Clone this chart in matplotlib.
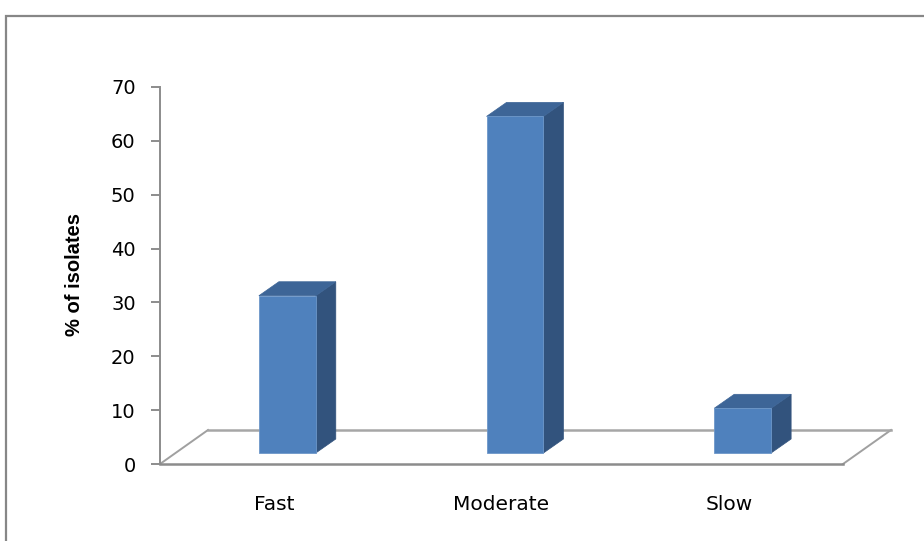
import matplotlib
matplotlib.use("Agg")
import matplotlib.pyplot as plt
from matplotlib.patches import Polygon, Rectangle
from matplotlib.lines import Line2D

categories = ["Fast", "Moderate", "Slow"]
values = [29.2, 62.5, 8.3]
y_ticks = [0, 10, 20, 30, 40, 50, 60, 70]
y_label = "% of isolates"

W, H = 924, 541
fig = plt.figure(figsize=(W / 100, H / 100), dpi=100)
plt.rcParams["font.family"] = ["DejaVu Sans"]

# front plane of the 3-D plot box (pixel geometry)
ax_left, ax_right, ax_bottom, ax_top = 160, 843, 464, 87
ax = fig.add_axes([ax_left / W, (H - ax_bottom) / H,
                   (ax_right - ax_left) / W, (ax_bottom - ax_top) / H])
ax.set_xlim(-0.5, len(categories) - 0.5)
ax.set_ylim(0, 70)
ax.patch.set_alpha(0)
for s in ("top", "right", "bottom"):
    ax.spines[s].set_visible(False)
ax.spines["left"].set_color("#8c8c8c")
ax.spines["left"].set_linewidth(1.4)
ax.set_yticks(y_ticks)
ax.tick_params(axis="y", direction="out", length=6.5, width=1.4,
               color="#8c8c8c", pad=11, labelsize=14, labelcolor="#000000")
ax.set_xticks([])

# convert a depth offset in pixels into data units
def depth(px_dx, px_dy):
    inv = ax.transData.inverted()
    x0, y0 = ax.transData.transform((0, 0))
    x1, y1 = inv.transform((x0 + px_dx, y0 + px_dy))
    return x1, y1

floor_dx, floor_dy = depth(48, 34)
mid_dx, mid_dy = depth(13.5, 11)
bar_dx, bar_dy = depth(20, 14)

x0, x1 = -0.5, len(categories) - 0.5
# floor of the plot box
ax.add_line(Line2D([x0, x0 + floor_dx], [0, floor_dy], color="#a0a0a0", lw=1.4, clip_on=False, zorder=1))
ax.add_line(Line2D([x1, x1 + floor_dx], [0, floor_dy], color="#a0a0a0", lw=1.4, clip_on=False, zorder=1))
ax.add_line(Line2D([x0 + floor_dx, x1 + floor_dx], [floor_dy, floor_dy], color="#a6a6a6", lw=1.8, clip_on=False, zorder=1))
ax.add_line(Line2D([x0, x1], [0, 0], color="#8c8c8c", lw=1.8, clip_on=False, zorder=1))

# 3-D columns
bw = 0.25
front_c, side_c, top_c = "#4f81bd", "#32537d", "#3d6597"
for i, v in enumerate(values):
    xl = i - bw / 2 + mid_dx
    xr = i + bw / 2 + mid_dx
    yb = mid_dy
    yt = v + mid_dy
    side = Polygon([(xr, yb), (xr + bar_dx, yb + bar_dy), (xr + bar_dx, yt + bar_dy), (xr, yt)],
                   closed=True, facecolor=side_c, edgecolor=side_c, lw=0.5, clip_on=False, zorder=3)
    top = Polygon([(xl, yt), (xl + bar_dx, yt + bar_dy), (xr + bar_dx, yt + bar_dy), (xr, yt)],
                  closed=True, facecolor=top_c, edgecolor=top_c, lw=0.5, clip_on=False, zorder=3)
    front = Rectangle((xl, yb), xr - xl, yt - yb, facecolor=front_c, edgecolor="#6d97c9",
                      lw=0.6, clip_on=False, zorder=4)
    ax.add_patch(side)
    ax.add_patch(top)
    ax.add_patch(front)
    ax.text(i, -7.6, categories[i], ha="center", va="center", fontsize=14.5, color="#000000")

fig.text(75 / W, 1 - 274 / H, y_label, rotation=90, ha="center", va="center",
         fontsize=14.5, fontweight="bold", color="#000000",
         family=["Liberation Sans", "DejaVu Sans"])

# outer chart border
fig.add_artist(Rectangle((6 / W, -0.05), 1.0, 1 - 16 / H + 0.05, transform=fig.transFigure,
                         fill=False, edgecolor="#878787", lw=1.6))

fig.savefig("out.png", dpi=100)
